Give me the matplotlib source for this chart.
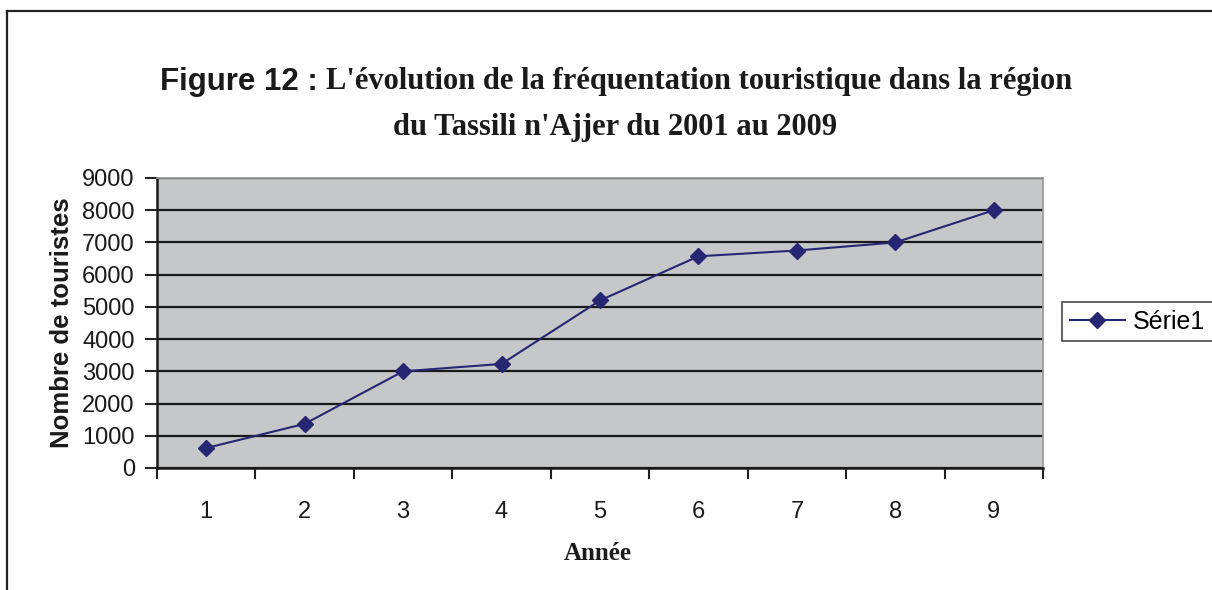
import matplotlib
matplotlib.use("Agg")
import matplotlib.pyplot as plt
from matplotlib.lines import Line2D

years = [1, 2, 3, 4, 5, 6, 7, 8, 9]
tourists = [620, 1370, 3000, 3230, 5200, 6570, 6750, 7000, 8000]
series_name = "Série1"
yticks = [0, 1000, 2000, 3000, 4000, 5000, 6000, 7000, 8000, 9000]

W, H = 1212, 590
fig = plt.figure(figsize=(W / 100, H / 100), dpi=100)

# outer frame (top and left edges visible, rest cut off)
fig.add_artist(Line2D([7 / W, 7 / W], [0, 1 - 11 / H], color="#222222", lw=1.6,
                      transform=fig.transFigure))
fig.add_artist(Line2D([7 / W, 1], [1 - 11 / H, 1 - 11 / H], color="#222222", lw=1.6,
                      transform=fig.transFigure))

ax = fig.add_axes([157 / W, 1 - 468 / H, (1043 - 157) / W, (468 - 178) / H])
ax.set_facecolor("#c6c7c9")
ax.plot(years, tourists, color="#262673", lw=1.5, marker="D", ms=8,
        markerfacecolor="#262673", markeredgecolor="#262673", label=series_name)

ax.set_xlim(0.5, 9.5)
ax.set_ylim(0, 9000)
ax.set_yticks(yticks)
ax.set_yticklabels([str(v) for v in yticks])
ax.yaxis.grid(True, color="#1a1a1a", lw=1.6)
ax.set_axisbelow(True)

# category axis: ticks on boundaries, labels centered
ax.set_xticks([x + 0.5 for x in [0] + years])
ax.set_xticklabels([])
ax.set_xticks(years, minor=True)
ax.set_xticklabels([str(y) for y in years], minor=True)
ax.tick_params(axis="x", which="minor", length=0, pad=24, labelsize=17)
ax.tick_params(axis="x", which="major", direction="out", length=8, width=1.5, color="#222222")
ax.tick_params(axis="y", direction="out", length=9, width=1.5, color="#222222",
               labelsize=17, pad=7)
for lbl in ax.get_xticklabels(minor=True) + ax.get_yticklabels():
    lbl.set_family("Liberation Sans")
    lbl.set_color("#1a1a1a")

ax.spines["left"].set_color("#1a1a1a")
ax.spines["left"].set_linewidth(1.8)
ax.spines["bottom"].set_color("#1a1a1a")
ax.spines["bottom"].set_linewidth(1.8)
ax.spines["top"].set_color("#999999")
ax.spines["right"].set_color("#999999")
ax.spines["top"].set_linewidth(1.2)
ax.spines["right"].set_linewidth(1.2)

ax.set_ylabel("Nombre de touristes", family="Liberation Sans", fontweight="bold",
              fontsize=18.5, color="#1a1a1a", labelpad=6)
fig.text(598 / W, 1 - 553 / H, "Année", family="Liberation Serif", fontweight="bold",
         fontsize=18, ha="center", va="center", color="#1a1a1a")

leg = ax.legend(loc="center left", bbox_to_anchor=(1062 / W, 1 - 322 / H),
                bbox_transform=fig.transFigure, frameon=True, fancybox=False,
                prop={"family": "Liberation Sans", "size": 18},
                handlelength=2.2, borderpad=0.3, handletextpad=0.35, borderaxespad=0)
leg.get_frame().set_edgecolor("#1a1a1a")
leg.get_frame().set_linewidth(1.2)

# title in two fonts
fig.text(318 / W, 1 - 82 / H, "Figure 12 :", family="Liberation Sans", fontweight="bold",
         fontsize=22.5, ha="right", va="center", color="#1a1a1a")
fig.text(326 / W, 1 - 82 / H, "L'évolution de la fréquentation touristique dans la région",
         family="Liberation Serif", fontweight="bold", fontsize=22, ha="left", va="center",
         color="#1a1a1a")
fig.text(615 / W, 1 - 127 / H, "du Tassili n'Ajjer du 2001 au 2009",
         family="Liberation Serif", fontweight="bold", fontsize=22, ha="center", va="center",
         color="#1a1a1a")

fig.savefig("out.png", dpi=100)
